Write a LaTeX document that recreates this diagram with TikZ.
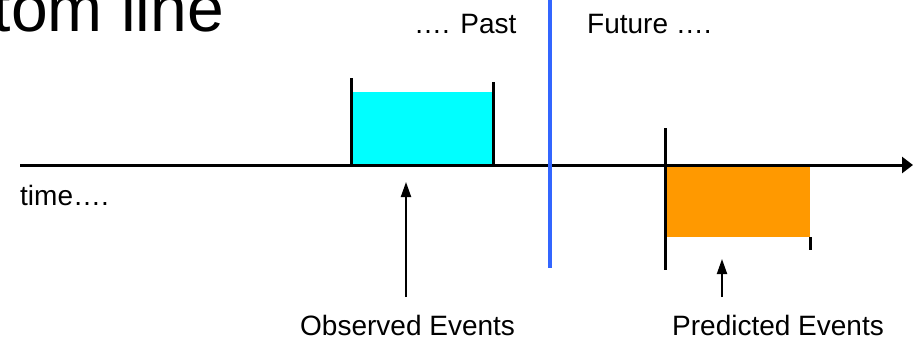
\documentclass[tikz,border=0pt]{standalone}
\usepackage{fontspec}
\setmainfont{Liberation Sans}
\usetikzlibrary{arrows.meta}
\definecolor{pastblue}{RGB}{51,102,255}
\definecolor{obscyan}{RGB}{0,255,255}
\definecolor{predorange}{RGB}{255,153,0}
\begin{document}
\begin{tikzpicture}[x=1pt,y=-1pt,
  lbl/.style={font=\fontsize{28}{32}\selectfont, inner sep=0pt},
  tickline/.style={line width=3pt},
  axisline/.style={line width=3pt, -{Triangle[length=11pt,width=16pt]}},
  pointer/.style={line width=2pt, -{Triangle[length=15pt,width=10pt]}},
  eventbox/.style={inner sep=0pt, outer sep=0pt, draw=none}]
\useasboundingbox (0,0) rectangle (913,340);
% title (cut off)
\node[anchor=base east, inner sep=0pt, font=\fontsize{66}{72}\selectfont] (title) at (224,31) {tom line};
% timeline
\coordinate (tstart) at (20,165);
\coordinate (tend) at (913,165);
% boxes
\node[eventbox, fill=obscyan, minimum width=142pt, minimum height=73pt, anchor=south west] (obsbox) at (351,165) {};
\node[eventbox, fill=predorange, minimum width=145pt, minimum height=72pt, anchor=north west] (predbox) at (665,165) {};
\draw[axisline] (tstart) -- (tend);
% ticks
\coordinate (ol1) at (351,78);  \coordinate (ol2) at (351,166);
\coordinate (or1) at (493,82);  \coordinate (or2) at (493,167);
\coordinate (pl1) at (665,128); \coordinate (pl2) at (665,270);
\coordinate (pr1) at (810,237); \coordinate (pr2) at (810,250);
\draw[tickline] (ol1) -- (ol2);
\draw[tickline] (or1) -- (or2);
\draw[tickline] (pl1) -- (pl2);
\draw[tickline] (pr1) -- (pr2);
% now line
\coordinate (now1) at (550,0);
\coordinate (now2) at (550,268);
\draw[line width=3.5pt, pastblue] (now1) -- (now2);
% labels
\node[lbl, anchor=base west] (past) at (414,33) {…. Past};
\node[lbl, anchor=base west] (future) at (587,33) {Future ….};
\node[lbl, anchor=base west] (time) at (20,205) {time….};
\node[lbl, anchor=base west] (obs) at (300,335) {Observed Events};
\node[lbl, anchor=base west] (pred) at (672,335) {Predicted Events};
% pointers
\coordinate (obsfoot) at (406,297);
\coordinate (obstip) at (406,182);
\coordinate (predfoot) at (722,297);
\coordinate (predtip) at (722,259);
\draw[pointer] (obsfoot) -- (obstip);
\draw[pointer] (predfoot) -- (predtip);
\end{tikzpicture}
\end{document}
